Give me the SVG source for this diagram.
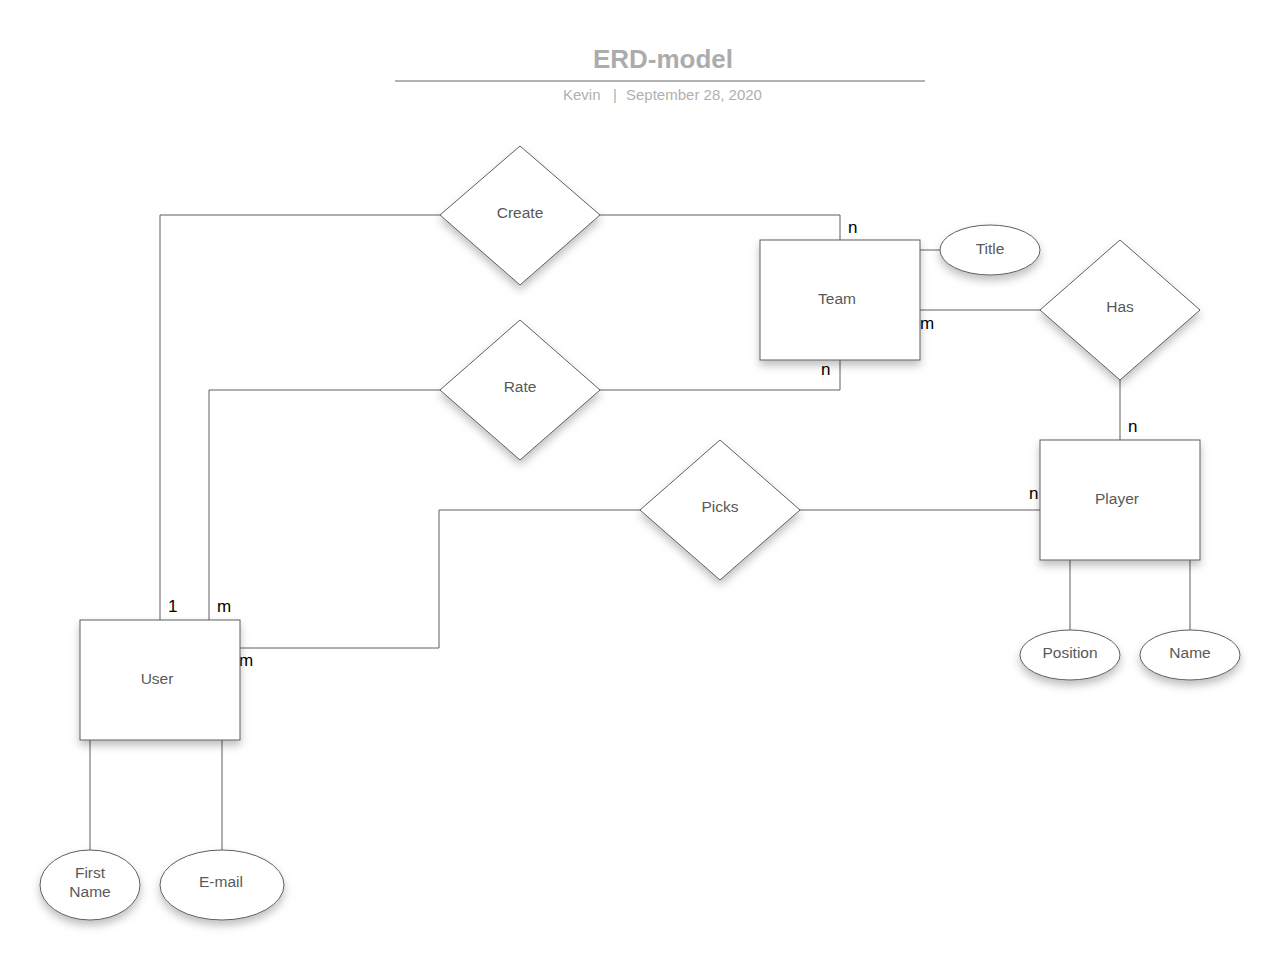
<svg xmlns="http://www.w3.org/2000/svg" width="1280" height="960" viewBox="0 0 1280 960">
<defs>
<filter id="sh" x="-20%" y="-20%" width="140%" height="150%">
<feDropShadow dx="0" dy="5" stdDeviation="4" flood-color="#000" flood-opacity="0.25"/>
</filter>
<style>
.shape{fill:#fff;stroke:#5e5e5e;stroke-width:1;filter:url(#sh)}
.lbl{font-family:"Liberation Sans",Arial,sans-serif;font-size:15.5px;fill:#595959;text-anchor:middle}
.card{font-family:"Liberation Sans",Arial,sans-serif;font-size:17px;fill:#000}
.conn{fill:none;stroke:#5e5e5e;stroke-width:1}
</style>
</defs>
<rect width="1280" height="960" fill="#fff"/>
<g id="title">
<text x="663" y="68" text-anchor="middle" font-family="Liberation Sans,Arial,sans-serif" font-weight="bold" font-size="26" fill="#acacac">ERD-model</text>
<line x1="395" y1="81" x2="925" y2="81" stroke="#b3b3b3" stroke-width="2"/>
<text y="100" font-family="Liberation Sans,Arial,sans-serif" font-size="15" fill="#b0b0b0"><tspan x="563">Kevin</tspan><tspan x="613">|</tspan><tspan x="626">September 28, 2020</tspan></text>
</g>
<g id="connectors">
<polyline class="conn" points="440,215 160,215 160,620"/>
<polyline class="conn" points="600,215 840,215 840,240"/>
<polyline class="conn" points="440,390 209,390 209,620"/>
<polyline class="conn" points="600,390 840,390 840,360"/>
<polyline class="conn" points="640,510 439,510 439,648 240,648"/>
<line class="conn" x1="800" y1="510" x2="1040" y2="510"/>
<line class="conn" x1="920" y1="310" x2="1040" y2="310"/>
<line class="conn" x1="1120" y1="380" x2="1120" y2="440"/>
<line class="conn" x1="920" y1="250" x2="940" y2="250"/>
<line class="conn" x1="1070" y1="560" x2="1070" y2="630"/>
<line class="conn" x1="1190" y1="560" x2="1190" y2="630"/>
<line class="conn" x1="90" y1="740" x2="90" y2="850"/>
<line class="conn" x1="222" y1="740" x2="222" y2="850"/>
<text class="card" x="848" y="233">n</text>
<text class="card" x="920" y="329">m</text>
<text class="card" x="821" y="375">n</text>
<text class="card" x="1128" y="432">n</text>
<text class="card" x="1029" y="499">n</text>
<text class="card" x="168" y="612">1</text>
<text class="card" x="217" y="612">m</text>
<text class="card" x="239" y="666">m</text>
</g>
<g id="create"><polygon class="shape" points="520,146 600,215 520,285 440,215"/><text class="lbl" x="520" y="218">Create</text></g>
<g id="rate"><polygon class="shape" points="520,320 600,390 520,460 440,390"/><text class="lbl" x="520" y="392">Rate</text></g>
<g id="picks"><polygon class="shape" points="720,440 800,510 720,580 640,510"/><text class="lbl" x="720" y="512">Picks</text></g>
<g id="has"><polygon class="shape" points="1120,240 1200,310 1120,380 1040,310"/><text class="lbl" x="1120" y="312">Has</text></g>
<g id="team"><rect class="shape" x="760" y="240" width="160" height="120"/><text class="lbl" x="837" y="304">Team</text></g>
<g id="player"><rect class="shape" x="1040" y="440" width="160" height="120"/><text class="lbl" x="1117" y="504">Player</text></g>
<g id="user"><rect class="shape" x="80" y="620" width="160" height="120"/><text class="lbl" x="157" y="684">User</text></g>
<g id="title-attr"><ellipse class="shape" cx="990" cy="250" rx="50" ry="25"/><text class="lbl" x="990" y="254">Title</text></g>
<g id="position"><ellipse class="shape" cx="1070" cy="655" rx="50" ry="25"/><text class="lbl" x="1070" y="658">Position</text></g>
<g id="name"><ellipse class="shape" cx="1190" cy="655" rx="50" ry="25"/><text class="lbl" x="1190" y="658">Name</text></g>
<g id="firstname"><ellipse class="shape" cx="90" cy="885" rx="50" ry="35"/><text class="lbl" x="90" y="878">First</text><text class="lbl" x="90" y="897">Name</text></g>
<g id="email"><ellipse class="shape" cx="222" cy="885" rx="62" ry="35"/><text class="lbl" x="221" y="887">E-mail</text></g>
</svg>
